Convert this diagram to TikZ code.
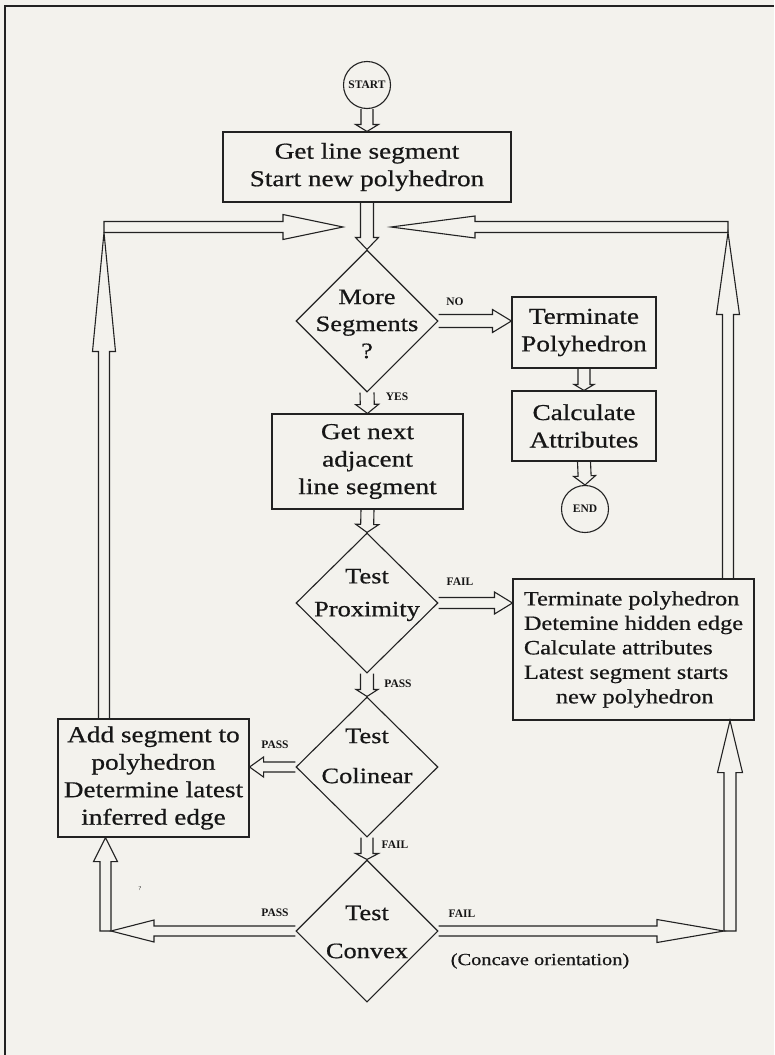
\documentclass[tikz,border=0pt]{standalone}
\usepackage{fontspec}
\setmainfont{Liberation Serif}
\newfontfamily\stretchserif[FakeStretch=1.2,FakeBold=0.6]{Liberation Serif}
\usetikzlibrary{calc,shapes.geometric}
\definecolor{ink}{RGB}{34,34,34}
\definecolor{letter}{RGB}{22,22,22}
\definecolor{paper}{RGB}{243,242,237}

% Hollow block arrow from #2 (tail) to #3 (tip):
% #4 shaft half-width, #5 head half-width, #6 head length,
% optional #1 closes the tail (e.g. "-- cycle").
\newcommand\flowarrow[6][]{%
  \coordinate (fa-base) at ($(#3)!#6!(#2)$);
  \draw[arrowline] ($(#2)!#4!90:(#3)$) -- ($(fa-base)!#4!90:(#3)$)
    -- ($(fa-base)!#5!90:(#3)$) -- (#3) -- ($(fa-base)!#5!-90:(#3)$)
    -- ($(fa-base)!#4!-90:(#3)$) -- ($(#2)!#4!-90:(#3)$) #1;
}

\begin{document}
\begin{tikzpicture}[x=1pt,y=-1pt,
  ln/.style={draw=ink, line width=1.1pt},
  arrowline/.style={ln, line join=miter},
  process/.style={ln, rectangle, inner sep=0pt, align=center, text=letter,
    font=\stretchserif\fontsize{22.7}{27.5}\selectfont},
  decision/.style={ln, diamond, inner sep=0pt, minimum width=142pt, minimum height=142pt},
  dtext/.style={align=center, text=letter, inner sep=0pt,
    font=\stretchserif\fontsize{22}{27}\selectfont},
  terminal/.style={ln, circle, inner sep=0pt, minimum size=47pt, text=letter,
    font=\bfseries\fontsize{11.5}{12}\selectfont},
  tag/.style={text=letter, inner sep=0pt, font=\bfseries\fontsize{11.5}{12}\selectfont},
]
\fill[paper] (0,0) rectangle (774,1055);
\useasboundingbox (0,0) rectangle (774,1055);

% page frame
\draw[ln] (5,1055) -- (5,6) -- (774,6);

% main column
\node[terminal] (start) at (367,85) {START};
\node[process, minimum width=288pt, minimum height=70pt] (seg) at (367,167)
  {Get line segment\\Start new polyhedron};
\node[decision] (more) at (367,321) {};
\node[dtext] (moretxt) at (367,324) {More\\Segments\\?};
\node[process, minimum width=191pt, minimum height=95pt] (next) at (367.5,461.5)
  {Get next\\adjacent\\line segment};
\node[decision, minimum height=140pt] (prox) at (367,603) {};
\node[dtext] (proxtxt) at (367,595) {Test\\[6pt]Proximity};
\node[decision, minimum height=140pt] (col) at (367,767) {};
\node[dtext] (coltxt) at (367,756) {Test\\[13pt]Colinear};
\node[decision] (vex) at (367,931) {};
\node[dtext] (vextxt) at (367,932) {Test\\[11pt]Convex};

% right branch
\node[process, minimum width=144pt, minimum height=71pt] (term) at (584,332.5)
  {Terminate\\Polyhedron};
\node[process, minimum width=144pt, minimum height=70pt] (calc) at (584,426)
  {Calculate\\Attributes};
\node[terminal] (end) at (585,509) {END};
\node[process, minimum width=241pt, minimum height=141pt, align=left,
  font=\stretchserif\fontsize{20.3}{24.5}\selectfont] (fail) at (633.5,649.5)
  {Terminate polyhedron\\Detemine hidden edge\\Calculate attributes\\
   Latest segment starts\\\hspace*{32pt}new polyhedron};

% left branch
\node[process, minimum width=191pt, minimum height=118pt] (add) at (153.5,778)
  {Add segment to\\polyhedron\\Determine latest\\inferred edge};

% branch labels
\node[tag] (no) at (455,302) {NO};
\node[tag] (yes) at (397,397) {YES};
\node[tag] (pfail) at (460,582) {FAIL};
\node[tag] (ppass) at (398,684) {PASS};
\node[tag] (cpass) at (275,745) {PASS};
\node[tag] (cfail) at (395,845) {FAIL};
\node[tag] (vpass) at (275,913) {PASS};
\node[tag] (vfail) at (462,914) {FAIL};
\node[text=letter, inner sep=0pt, font=\stretchserif\fontsize{17}{20}\selectfont]
  (concave) at (540,961) {(Concave orientation)};
\node[text=letter, inner sep=0pt, font=\fontsize{6}{6}\selectfont] (stray) at (140,889) {?};

% bends of the return paths
\coordinate (tlc) at (104,227);
\coordinate (ltip) at (343,227);
\coordinate (trc) at (728,227);
\coordinate (rtip) at (391,227);
\coordinate (blc) at (105.5,931);
\coordinate (brc) at (730,931);

% straight flow
\flowarrow{start.south}{seg.north}{6pt}{11.5pt}{7pt}
\flowarrow{seg.south}{more.north}{6.5pt}{11.5pt}{12pt}
\coordinate (notip) at (more.east -| term.west);
\flowarrow{more.east}{notip}{6.5pt}{11.5pt}{19pt}
\flowarrow{term.south}{calc.north}{6pt}{10pt}{6pt}
\flowarrow{calc.south}{end.north}{6.5pt}{11pt}{9pt}
\flowarrow{more.south}{next.north}{7pt}{11.5pt}{9pt}
\flowarrow{next.south}{prox.north}{6.5pt}{11.5pt}{8pt}
\coordinate (failtip) at (prox.east -| fail.west);
\flowarrow{prox.east}{failtip}{5.5pt}{11pt}{18pt}
\flowarrow{prox.south}{col.north}{6.5pt}{11pt}{7pt}
\coordinate (addtip) at (col.west -| add.east);
\flowarrow{col.west}{addtip}{5pt}{10pt}{14pt}
\flowarrow{col.south}{vex.north}{6pt}{11.5pt}{6pt}

% convex PASS back into the add box
\coordinate (blh) at ($(blc)+(5.5,0)$);
\flowarrow{vex.west}{blh}{5pt}{11pt}{43pt}
\coordinate (blv) at (blc |- add.south);
\flowarrow[-- cycle]{blc}{blv}{5.5pt}{12pt}{24pt}

% convex FAIL up into the terminate box
\coordinate (brh) at ($(brc)+(-6,0)$);
\flowarrow{vex.east}{brh}{5pt}{11.5pt}{67pt}
\coordinate (brv) at (brc |- fail.south);
\flowarrow[-- cycle]{brc}{brv}{6pt}{12.5pt}{52pt}

% return from the terminate box
\coordinate (trv) at (trc |- fail.north);
\coordinate (trt) at ($(trc)+(0,5.5)$);
\flowarrow{trv}{trt}{5.5pt}{11.5pt}{82pt}
\flowarrow[-- cycle]{trc}{rtip}{5.5pt}{11pt}{84pt}

% return from the add box
\coordinate (tlv) at (tlc |- add.north);
\coordinate (tlt) at ($(tlc)+(0,5.5)$);
\flowarrow{tlv}{tlt}{5.5pt}{11.5pt}{119pt}
\flowarrow[-- cycle]{tlc}{ltip}{5.5pt}{12.5pt}{60pt}
\end{tikzpicture}
\end{document}
